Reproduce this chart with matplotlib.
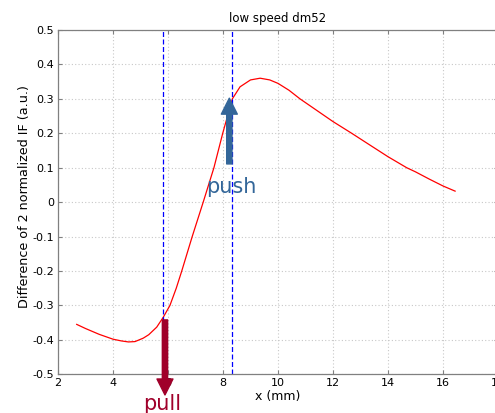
import matplotlib
matplotlib.use("Agg")
import matplotlib.pyplot as plt
from matplotlib.patches import FancyArrowPatch

# Data
x_mm = [2.68, 3.0, 3.5, 4.0, 4.3, 4.56, 4.8, 5.1, 5.3, 5.59, 5.83, 6.07, 6.3, 6.5,
        6.88, 7.28, 7.67, 7.99, 8.34, 8.62, 9.0, 9.35, 9.7, 10.0, 10.4, 10.8, 11.4,
        12.0, 12.68, 13.3, 14.0, 14.68, 15.0, 15.5, 16.0, 16.44]
diff_if = [-0.355, -0.367, -0.384, -0.398, -0.403, -0.406, -0.405, -0.395, -0.385, -0.363,
           -0.334, -0.300, -0.250, -0.200, -0.100, 0.000, 0.100, 0.200, 0.300, 0.335,
           0.355, 0.360, 0.355, 0.345, 0.325, 0.300, 0.267, 0.234, 0.200, 0.168, 0.132,
           0.100, 0.088, 0.067, 0.047, 0.032]
vlines_x = [5.83, 8.34]
push_x, push_y0, push_y1 = 8.23, 0.111, 0.302
pull_x, pull_y0, pull_y1 = 5.89, -0.342, -0.56
x_ticks = [2, 4, 6, 8, 10, 12, 14, 16, 18]
y_ticks = [-0.5, -0.4, -0.3, -0.2, -0.1, 0, 0.1, 0.2, 0.3, 0.4, 0.5]
y_ticklabels = ["-0.5", "-0.4", "-0.3", "-0.2", "-0.1", "0", "0.1", "0.2", "0.3", "0.4", "0.5"]

fig = plt.figure(figsize=(4.95, 4.13), dpi=100)
ax = fig.add_axes([58/495, 1-374.3/413, 440/495, 344.3/413])

ax.plot(x_mm, diff_if, color="red", lw=0.9)
for xv in vlines_x:
    ax.axvline(xv, color="blue", lw=0.9, ls=(0, (4, 2)))

ax.set_xlim(2, 18)
ax.set_ylim(-0.5, 0.5)
ax.set_xticks(x_ticks)
ax.set_xticklabels([str(t) for t in x_ticks])
ax.set_yticks(y_ticks)
ax.set_yticklabels(y_ticklabels)
ax.grid(True, color="#c8c8c8", ls=(0, (1, 2)), lw=0.8)
ax.tick_params(direction="in", length=3, color="#808080", labelsize=8, top=True, right=True, pad=3)
for s in ax.spines.values():
    s.set_color("#808080")
    s.set_linewidth(0.9)

ax.set_title("low speed dm52", fontsize=8.5, pad=6)
ax.set_xlabel("x (mm)", fontsize=9, labelpad=1)
ax.set_ylabel("Difference of 2 normalized IF (a.u.)", fontsize=9.2)
ax.yaxis.set_label_coords(-0.062, 0.516)

push = FancyArrowPatch((push_x, push_y0), (push_x, push_y1),
                       arrowstyle="Simple, tail_width=3.8, head_width=11.5, head_length=11.5",
                       mutation_scale=1, shrinkA=0, shrinkB=0, color="#336699", zorder=5)
ax.add_patch(push)
pull = FancyArrowPatch((pull_x, pull_y0), (pull_x, pull_y1),
                       arrowstyle="Simple, tail_width=3.8, head_width=11.5, head_length=11.5",
                       mutation_scale=1, shrinkA=0, shrinkB=0, color="#a0002a", zorder=5,
                       clip_on=False)
ax.add_patch(pull)

ax.text(8.3, 0.043, "push", color="#336699", fontsize=15, ha="center", va="center")
ax.text(5.8, -0.585, "pull", color="#a0002a", fontsize=15, ha="center", va="center", clip_on=False)

fig.savefig("out.png", dpi=100)
